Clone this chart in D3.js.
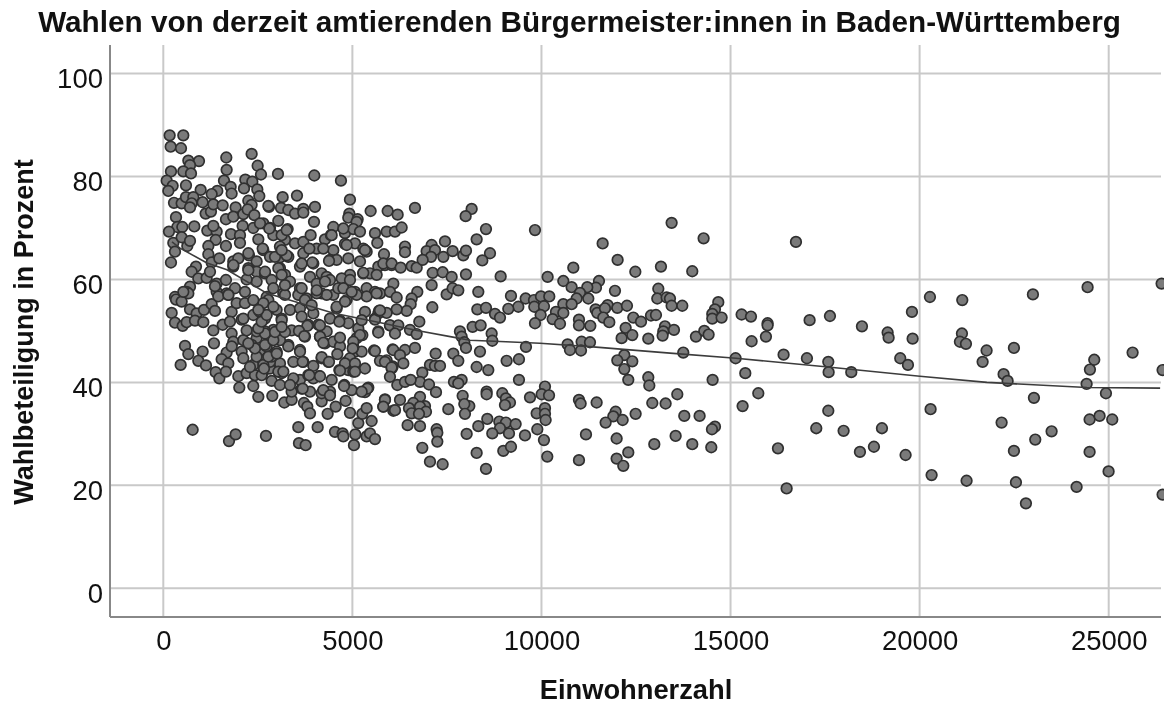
<!DOCTYPE html>
<html>
<head>
<meta charset="utf-8">
<script src="https://cdn.jsdelivr.net/npm/d3@7"></script>
<style>
html, body { margin: 0; padding: 0; background: #fff; }
svg { display: block; font-family: "Liberation Sans", Arial, sans-serif; filter: blur(0.45px); }
</style>
</head>
<body>
<svg id="chart" width="1167" height="702"></svg>
<script>
const titel = "Wahlen von derzeit amtierenden Bürgermeister:innen in Baden-Württemberg";
const xLabel = "Einwohnerzahl";
const yLabel = "Wahlbeteiligung in Prozent";
const xTicks = [0, 5000, 10000, 15000, 20000, 25000];
const yTicks = [0, 20, 40, 60, 80, 100];

// Einwohnerzahl, Wahlbeteiligung
const gemeinden = [
[168,88],[529,88],[195,85.8],[468,85.5],[2336,84.4],[1666,83.7],[662,83.1],[944,83],[706,82.2],[2495,82.1],
[1675,81.3],[203,81],[529,81],[732,80.6],[2583,80.4],[3033,80.5],[3993,80.2],[4698,79.2],[1605,79.2],[2169,79.4],
[2354,79],[89,79.2],[247,78.2],[600,78.3],[133,77.2],[988,77.4],[1428,77.2],[1279,76.6],[1781,78],[1807,76.7],
[2134,77.7],[2486,77.5],[2539,76.2],[3156,76],[3535,76.3],[4936,75.5],[283,74.9],[485,74.8],[600,76],[794,76],
[750,74.8],[706,74],[1040,75],[1120,72.8],[1260,73.2],[1323,74.6],[1570,74.4],[1913,74],[2248,75.3],[2336,74.5],
[2795,74.1],[3113,73.9],[3306,73.5],[3482,72.8],[3703,73.7],[3703,73],[4011,74.1],[5483,73.3],[4919,72.8],[4892,72],
[5139,71.7],[5113,71.2],[3985,71.2],[336,72.1],[820,70.3],[371,70.2],[503,70.2],[150,69.3],[1164,69.5],[1411,69.3],
[1323,70.4],[1657,71.7],[1851,72.2],[2116,72.7],[2231,73.6],[2407,72.5],[2098,70.4],[2380,70],[2645,70.9],[2822,70],
[3041,71.4],[3288,69.8],[1790,68.8],[2028,68.6],[1385,67.7],[1657,66.5],[2028,67.1],[2513,67.8],[2909,68.6],[3218,67.7],
[3482,67],[3703,67.3],[3896,68.6],[4055,66],[4275,67.8],[4496,70.2],[4434,68.6],[4804,69],[5025,69.8],[5201,69.3],
[5598,69],[5659,67.1],[5069,67],[4804,66.9],[4496,65.7],[4231,66],[3703,65.1],[3085,66.4],[2645,65.7],[2822,64.4],
[3306,64.4],[3085,64.3],[5289,66],[5377,65.4],[265,67.1],[635,66.5],[485,68.2],[706,67.5],[309,65.4],[203,63.3],
[1191,66.5],[1191,64.9],[1279,63.3],[864,62.5],[750,61.5],[926,60.2],[1146,60.3],[1411,59.2],[1657,59.9],[1851,62.5],
[1851,63.5],[1984,64.1],[2266,64.7],[2468,63.5],[2248,62.2],[2468,61.5],[2689,61.2],[2468,59.6],[2204,60],[2865,59.9],
[3085,62.2],[3218,60.9],[3350,59.6],[2909,58.3],[3614,62.5],[3967,63.1],[3879,60.5],[4187,61.2],[4320,60.5],[4408,59.9],
[4055,59.2],[4408,63.8],[4584,63.8],[4892,64.1],[5201,63.5],[4936,60.9],[5289,61.2],[5465,61.2],[5686,62.5],[5862,63.1],
[5642,60.9],[4760,58.9],[5069,57.6],[5377,58.3],[5598,57.6],[706,58.6],[618,57.6],[309,56.6],[1411,57.6],[1675,57.3],
[1896,58.3],[2160,57.6],[2733,56.6],[3173,57.3],[3614,58.3],[3570,57],[3790,56.3],[4187,57.3],[4496,57],
[336,56.1],[662,57.3],[221,53.5],[485,55.7],[706,54.2],[882,53.4],[1076,54.1],[1279,55.2],[1367,53.9],[309,51.6],
[512,51],[618,51.7],[838,52],[1058,51.7],[1323,50.1],[1570,51.2],[1340,47.6],[574,47.1],[662,45.5],[1040,46],
[926,44.2],[459,43.4],[1129,43.3],[1675,45.8],[1543,44.5],[1719,43.7],[1385,42],[1482,40.8],[1657,42.1],[1984,41.2],
[2204,41.8],[2424,41.4],[2010,39],[2380,39.3],[2513,37.2],[2883,37.4],[3200,36.1],[3394,36.6],[2865,40.3],[3085,39.5],
[3394,38.2],[3658,38.8],[3879,38.2],[3720,36],[3808,35.3],[3879,34],[4187,36.3],[4187,37.9],[4408,38.2],[4452,40.5],
[3614,40.5],[3835,41.4],[4125,41.2],[3967,43.2],[4346,33.9],[4558,35.3],[4936,34.1],[4822,36.4],[4787,39.5],[4980,38.5],
[5157,32.1],[5263,33.9],[5377,35],[5509,32.5],[5333,38.1],[5421,39],[5818,35.3],[5862,36.7],[6082,34.5],[776,30.8],
[1737,28.6],[1913,29.9],[2715,29.6],[3570,31.3],[4082,31.3],[3588,28.2],[3764,27.8],[4540,30.4],[4742,30.1],[4760,29.5],
[5078,29.9],[5042,27.8],[5377,29.5],[5465,30.1],[5598,29],[1807,49.5],[1851,47.9],[2116,48.2],[2072,46],[2116,44.7],
[2468,48.6],[2557,45.6],[2733,44.7],[2380,43.4],[2645,42.1],[3085,43.7],[3129,41.8],[2821,42.7],[2997,46],[3306,47.3],
[3614,46.3],[3438,44],[3702,44],[4187,44.7],[4364,44],[4143,48.9],[4320,49.9],[4275,47.6],[4496,47.9],[4672,47],
[4602,45.5],[4848,44],[4655,42.4],[4892,42.4],[5025,42.1],[5069,46],[5245,46],[5025,46.9],[5113,48.6],[5263,49.2],
[5157,50.5],[5686,49.9],[5571,46.2],[5333,42.7],[5730,44.2],[5906,44.3],[6064,46.4],[6064,43.1],[1807,53.7],[2072,52.2],
[1763,51.8],[1940,55.4],[2160,55.4],[2380,53.1],[2557,53.7],[2689,52.4],[2777,56],[2645,55.4],[2997,54.1],[3129,52.4],
[3350,54.1],[3614,54.4],[3835,51.2],[3614,49.9],[3746,48.9],[3394,50.1],[2909,50.2],[2689,49.9],[2468,49.9],[2204,50.1],
[2865,48.6],[4099,51.2],[3967,53.4],[4408,52.4],[4672,52],[4892,51.5],[4584,54.4],[4848,56],[5333,53.7],[5598,52.4],
[5686,53.4],[5377,56.7],[5730,57.3],[5113,57],[4320,57],[4055,57.3],[3746,56],[3218,57],[2380,56],[1719,57],
[1455,56.7],[2116,52.4],[2336,47.3],[2468,45],[2733,47],[3085,48.2],[3967,40.8],[4936,44.7],[2292,43],[2821,44],
[2645,43.4],[2424,46.6],[2865,45],
[1482,64.1],[1235,61.5],[1852,62.8],[2249,65.1],[2628,66],[2249,61.8],[2954,64.4],[2690,61.5],[3042,62.2],[1720,57],
[530,57.6],[1367,58.7],[2557,70.9],[2804,69.9],[2778,74.3],
[3130,68.6],[3262,69.6],[4452,68.6],[4761,69.9],[3862,66],[4849,66.7],[5333,65.7],[4382,63.6],[3262,64.7],[3130,65.7],
[3659,63.1],[3941,63.3],[5862,62.8],[6039,62.8],[5289,61.3],[4276,59.6],[4717,60.2],[4937,59.9],[4628,58.3],[4761,58.3],
[3130,60.9],[3218,58.9],[3659,58.3],[4056,57.9],[4981,57.6],[5642,57.3],
[2601,41.4],[3042,42.1],[2663,42.7],[2778,45],[3000,45.6],[2690,47.3],[2910,48.2],[2690,49.5],[2513,50.5],[2249,47.6],
[2601,51.8],[2734,53.1],[2954,49.8],[2910,54.7],[2513,54.1],[1808,47],
[3659,52.8],[3809,51],[3588,50],[3729,49],[4144,51.1],[4144,48.9],[4232,47.7],[4672,48.7],[4655,51.8],[5245,52.1],
[5598,52.2],[5705,53.9],[5686,49.7],[5201,49.2],[5025,47.9],[5008,46.6],[5598,46.1],[5995,51.1],[3306,47],[3615,46],
[3685,44],[4188,44.9],[4382,44],[4805,43.7],[4672,42.3],[5069,43.7],[5069,42.1],[6039,42.7],[3174,42.1],[3438,40.8],
[3862,41.4],[4144,41.2],[4778,39.3],[5395,38.8],[3685,38.8],[4232,38.5],[4408,37.5],[3350,39.5],[5245,38.2],[3218,49.8],
[3130,52.1],[3130,50.8],[3923,55],[4584,54.7],[4805,55.7],
[5933,73.3],[6197,72.6],[6655,73.9],[5906,69.3],[6127,69.3],[6303,70.1],[8154,73.7],[7995,72.3],[8533,69.8],[8286,67.8],
[9829,69.6],[11618,67],[12014,63.8],[12482,61.5],[13160,62.5],[10842,62.3],[7449,67.4],[7096,66.7],[6964,65.5],[7184,65.7],
[7079,64.4],[7405,64.4],[7651,65.5],[7933,64.7],[8004,65.6],[8639,65.1],[8436,63.7],[6391,66.4],[6391,65.3],[5836,64.9],
[5818,63.1],[6038,63.1],[6276,62.3],[6567,62.6],[6700,62.3],[6858,63.8],[7123,61.3],[7387,61.4],[7625,60.5],[8004,61],
[8921,60.6],[10163,60.5],[10578,59.7],[10798,58.5],[11521,59.7],[11441,58.4],[11212,58.5],[11018,57.4],[10930,56.3],[11239,56.3],
[11944,57.8],[13090,58.2],[13063,56.3],[13310,56.5],[6083,59.2],[7096,58.9],[5994,57.6],[6171,56.5],[6717,57.6],[6567,56.3],
[6541,55.2],[7493,57.1],[7651,58.3],[7801,57.9],[8330,57.6],[9194,56.8],[9582,56.3],[9802,56],[9987,56.7],[10207,56.7],
[9388,54.7],[9123,54.3],[9811,54.7],[10066,54.8],[10578,55.2],[10798,55.2],[10384,53.7],[10578,53.5],[10296,52.3],[10490,51.4],
[9978,53.1],[9829,51.5],[11432,54.2],[11477,53.5],[11750,55],[11679,54.4],[12006,54.5],[12261,54.9],[11635,52.6],[11794,51.7],
[10992,52.2],[10992,51.1],[11292,51],[12429,52.6],[12632,51.8],[12896,53],[13028,53.1],[13266,50.9],[13222,49.9],[13204,49.1],
[12226,50.6],[12120,48.6],[12402,49.2],[12825,48.5],[7114,54.6],[8304,54.2],[8533,54.5],[8771,53.3],[8903,52.6],[6770,51.8],
[6435,53.9],[6171,54.2],[5906,53.5],[5730,54],[5994,51.1],[6215,51.1],[6127,49.5],[6523,50.2],[6700,49.4],[8180,50.8],
[8392,51.1],[7845,49.9],[7889,48.9],[7960,47.8],[8004,46.7],[8683,49.5],[8700,48.1],[9590,46.9],[10692,47.4],[10754,46.3],
[11062,47.9],[11283,47.8],[11045,46.2],[6083,46.3],[6391,46.3],[6655,46.7],[6259,45.3],[5862,44],[6347,43.7],[6038,42.9],
[7202,45.6],[7669,45.6],[7801,44.2],[8374,46],[9079,44.2],[9405,44.5],[7052,43.4],[7184,43.2],[7317,43.2],[8286,43],
[8594,42.4],[6849,41.9],[6788,40.1],[7026,39.6],[5994,41.1],[6188,39.5],[6391,40.1],[6541,40.5],[7687,40.1],[7889,40.5],
[7801,39.8],[9405,40.5],[10093,39.2],[10005,37.7],[10200,37.5],[7211,38.1],[7916,37.4],[8550,38.2],[8550,37.7],[8965,37.9],
[9061,36.9],[9167,36.1],[9035,35.6],[9697,37.1],[10992,36.6],[11036,35.9],[11459,36.1],[12191,45.3],[12006,44.3],[12402,44.1],
[12191,42.6],[12296,40.5],[12825,41],[12852,39.4],[12931,36],[13283,35.9],[12490,33.9],[11962,34.3],[11900,33.4],[12147,32.7],
[11697,32.2],[9873,34],[10093,35],[10093,33.9],[10110,32.7],[8568,32.9],[8330,31.5],[8885,32.4],[9061,32.2],[9317,31.9],
[8903,31.1],[8700,30.1],[9141,30.1],[9564,29.7],[9890,30.9],[10066,28.8],[8022,30],[7537,34.8],[8092,35.4],[7960,35.8],
[7977,33.9],[6788,37.2],[6611,36],[6920,35.4],[6788,35.3],[6946,34.3],[6497,35],[6567,34],[6761,33.9],[6259,36.6],
[5862,36.6],[5818,35.3],[6127,34.6],[6461,31.7],[6788,31.5],[7228,30.9],[7246,30.2],[7246,28.5],[6849,27.3],[7052,24.6],
[7387,24.1],[8286,26.3],[8991,26.7],[9194,27.5],[8533,23.2],[10154,25.6],[10992,24.9],[11177,29.9],[11988,29.1],[12296,26.4],
[11988,25.2],[12164,23.8],[12984,28],
[13442,71],[14288,68],[13988,61.6],[16730,67.3],[26399,59.2],[13398,56.3],[13442,54.9],[13724,54.9],[14676,55.6],[14588,54.2],
[14517,53.3],[14517,52.4],[14764,52.6],[15293,53.2],[15540,52.8],[15980,51.5],[15980,51.1],[15936,48.9],[15557,48],[17091,52.1],
[17629,52.9],[18475,50.9],[19154,49.7],[19180,48.7],[19797,53.7],[19815,48.5],[20273,56.6],[21128,56],[21119,49.5],[21066,47.9],
[21225,47.5],[21771,46.2],[21666,44],[22494,46.7],[22996,57.1],[24442,58.5],[25632,45.8],[24618,44.4],[24504,42.5],[24416,39.7],
[24927,37.9],[22221,41.6],[22327,40.3],[23023,37],[26425,42.4],[26425,18.2],[13504,50.2],[14085,48.9],[14306,50],[14420,49.3],
[13750,45.8],[15134,44.7],[15390,41.8],[14526,40.5],[13592,37.7],[15734,37.9],[15319,35.4],[16403,45.4],[17020,44.7],[17585,44],
[17594,42],[18193,42],[19488,44.7],[19691,43.4],[17585,34.5],[13777,33.5],[14182,33.5],[14588,31.4],[14509,30.9],[13548,29.6],
[13988,28],[14491,27.4],[17267,31.1],[17990,30.6],[19004,31.1],[18792,27.5],[18422,26.5],[19629,25.9],[16254,27.2],[16483,19.4],
[20290,34.8],[20317,22],[21242,20.9],[22168,32.2],[23058,28.9],[23490,30.5],[22494,26.7],[22547,20.6],[22811,16.5],[24151,19.7],
[24495,32.8],[24759,33.5],[25094,32.8],[24495,26.5],[24997,22.7]
];

// Anpassungslinie
const trendX = [230, 442, 1155, 1684, 2741, 4486, 5808, 6708, 7660, 8110, 9960, 11361, 13398, 15144, 17577, 20007, 21778, 24423, 26360];
const trendY = [67.3, 66.1, 63.2, 61.9, 57.3, 53.5, 51.5, 50.1, 48.8, 48.2, 47.6, 46.9, 45.7, 44.7, 43, 41.2, 40, 39, 38.9];

const svg = d3.select("#chart");
const plotLeft = 110, plotRight = 1161, plotTop = 45, plotBottom = 617;

const x = d3.scaleLinear().domain([0, 25000]).range([163.3, 1108.7]);
const y = d3.scaleLinear().domain([0, 100]).range([588.3, 73.6]);

svg.append("clipPath").attr("id", "plotClip")
    .append("rect")
    .attr("x", plotLeft).attr("y", plotTop)
    .attr("width", 1164 - plotLeft).attr("height", plotBottom - plotTop);

// Gitter
svg.append("g").selectAll("line").data(xTicks).enter().append("line")
    .attr("x1", d => x(d)).attr("x2", d => x(d))
    .attr("y1", plotTop).attr("y2", plotBottom)
    .attr("stroke", "#c9c9c9").attr("stroke-width", 2);
svg.append("g").selectAll("line").data(yTicks).enter().append("line")
    .attr("x1", plotLeft).attr("x2", plotRight)
    .attr("y1", d => y(d)).attr("y2", d => y(d))
    .attr("stroke", "#c9c9c9").attr("stroke-width", 2);

// Achsen
const xAxis = svg.append("g")
    .attr("transform", `translate(0,${plotBottom})`)
    .call(d3.axisBottom(x).tickValues(xTicks).tickSize(0).tickPadding(13.5).tickFormat(d3.format("d")));
const yAxis = svg.append("g")
    .attr("transform", `translate(${plotLeft},0)`)
    .call(d3.axisLeft(y).tickValues(yTicks).tickSize(0).tickPadding(7).tickFormat(d3.format("d")));
[xAxis, yAxis].forEach(a => {
    a.selectAll("text").style("font-size", "27.5px").style("font-family", "inherit").attr("fill", "#111");
    a.select(".domain").remove();
});
yAxis.selectAll("text").attr("dy", "0.5em");

svg.append("line").attr("x1", plotLeft).attr("x2", plotRight).attr("y1", plotBottom).attr("y2", plotBottom)
    .attr("stroke", "#888").attr("stroke-width", 2);
svg.append("line").attr("x1", plotLeft).attr("x2", plotLeft).attr("y1", plotTop).attr("y2", plotBottom)
    .attr("stroke", "#888").attr("stroke-width", 2);

// Punkte
svg.append("g").attr("clip-path", "url(#plotClip)")
    .selectAll("circle").data(gemeinden).enter().append("circle")
    .attr("cx", d => x(d[0]))
    .attr("cy", d => y(d[1]))
    .attr("r", 5.3)
    .attr("fill", "#7a7a7a")
    .attr("stroke", "#303030")
    .attr("stroke-width", 1.7);

const line = d3.line().x(d => x(d[0])).y(d => y(d[1]));
svg.append("path")
    .datum(trendX.map((d, i) => [d, trendY[i]]))
    .attr("d", line)
    .attr("fill", "none")
    .attr("stroke", "#3c3c3c")
    .attr("stroke-width", 1.6);

// Beschriftung
svg.append("text").attr("x", 579.5).attr("y", 32)
    .attr("text-anchor", "middle")
    .style("font-size", "29.7px").style("font-weight", "bold")
    .attr("fill", "#111").text(titel);
svg.append("text").attr("x", 636).attr("y", 699)
    .attr("text-anchor", "middle")
    .style("font-size", "27.3px").style("font-weight", "bold")
    .attr("fill", "#111").text(xLabel);
svg.append("text")
    .attr("transform", "translate(33,332) rotate(-90)")
    .attr("text-anchor", "middle")
    .style("font-size", "27px").style("font-weight", "bold")
    .attr("fill", "#111").text(yLabel);
</script>
</body>
</html>
